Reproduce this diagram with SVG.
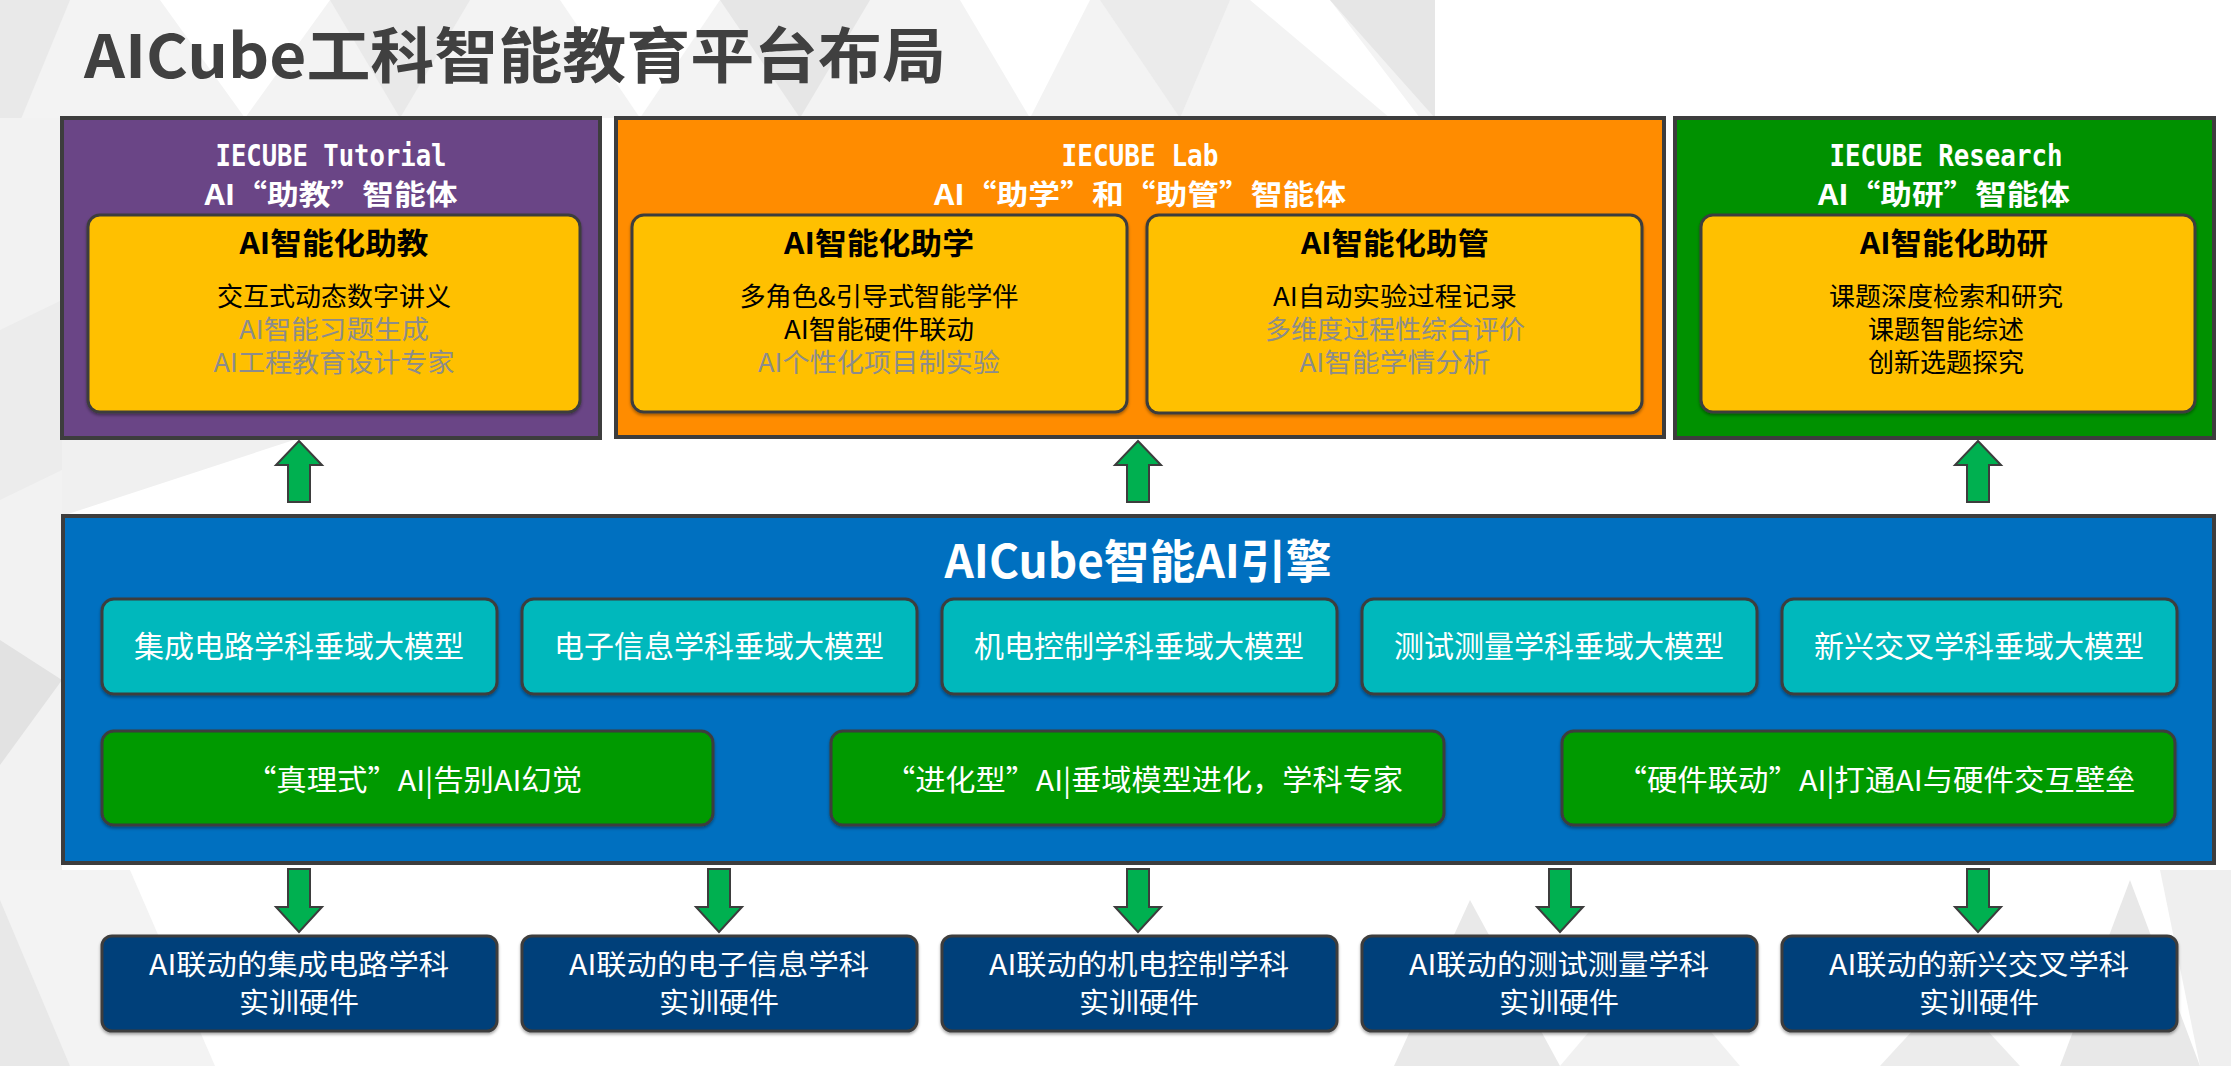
<svg xmlns="http://www.w3.org/2000/svg" width="2231" height="1066" viewBox="0 0 2231 1066">
<style>
.cjk{font-family:"Noto Sans CJK SC","Noto Sans",sans-serif}
.mono{font-family:"DejaVu Sans Mono","Liberation Mono",monospace;font-weight:bold}
.outer{stroke:#3d3d3d;stroke-width:4}
.inner{stroke:#3d3d3d;stroke-width:3}
.hdr{fill:#ffffff;font-weight:bold}
.ttl{fill:#000000;font-weight:bold;font-size:30px}
.body{font-size:26px}
.blk{fill:#000000}
.gry{fill:#8c8c8c}
.wt{fill:#ffffff}
.hw{font-size:28px}
.arrow{fill:#00B050;stroke:#3d3d3d;stroke-width:2;stroke-linejoin:miter}
</style>
<defs>
<filter id="sh" x="-5%" y="-5%" width="110%" height="120%">
<feDropShadow dx="0" dy="2" stdDeviation="1.5" flood-color="#000" flood-opacity="0.35"/>
</filter>
</defs>
<rect x="0" y="0" width="2231" height="1066" fill="#ffffff"/>
<g id="background">
<polygon points="0,0 1435,0 1435,118 0,118" fill="#f3f3f3"/>
<polygon points="0,0 70,0 0,170" fill="#e9e9e9"/>
<polygon points="160,0 330,0 245,118" fill="#ffffff"/>
<polygon points="330,0 470,0 400,118" fill="#e9e9e9"/>
<polygon points="560,0 720,0 640,118" fill="#ffffff"/>
<polygon points="720,0 870,0 800,118" fill="#e6e6e6"/>
<polygon points="960,0 1090,0 1030,118" fill="#ffffff"/>
<polygon points="1100,0 1230,0 1180,118" fill="#ebebeb"/>
<polygon points="1250,0 1330,0 1420,118 1390,118" fill="#ffffff"/>
<polygon points="1330,0 1435,0 1435,118" fill="#e6e6e6"/>
<polygon points="0,118 62,118 62,920 0,945" fill="#f2f2f2"/>
<polygon points="0,330 62,300 62,470 0,500" fill="#ececec"/>
<polygon points="0,640 62,680 0,765" fill="#e2e2e2"/>
<polygon points="0,945 62,920 62,1066 0,1066" fill="#f6f6f6"/>
<polygon points="62,438 300,438 62,516" fill="#f0f0f0"/>
<polygon points="0,870 130,870 215,1066 0,1066" fill="#f3f3f3"/>
<polygon points="0,900 70,1066 0,1066" fill="#e8e8e8"/>
<polygon points="1394,1066 1470,900 1560,1066" fill="#e9e9e9"/>
<polygon points="1560,1066 1650,960 1740,1066" fill="#f1f1f1"/>
<polygon points="1880,1066 1950,990 2020,1066" fill="#ececec"/>
<polygon points="2060,1066 2130,880 2200,1066" fill="#e8e8e8"/>
<polygon points="2160,870 2231,870 2231,1066 2200,1066" fill="#efefef"/>
</g>
<g id="title">
<text class="cjk" x="84" y="78" font-size="60" font-weight="bold" fill="#404040" textLength="862" lengthAdjust="spacingAndGlyphs">AICube工科智能教育平台布局</text>
</g>
<g id="tutorial">
<rect class="outer" x="62" y="118" width="538" height="320" fill="#6A4586"/>
<text class="mono hdr" x="331" y="166" font-size="31" text-anchor="middle" textLength="231" lengthAdjust="spacingAndGlyphs">IECUBE Tutorial</text>
<text class="cjk hdr" x="331" y="205" font-size="28" text-anchor="middle" textLength="253" lengthAdjust="spacingAndGlyphs">AI“助教”智能体</text>
<rect class="inner" x="88" y="215" width="492" height="197" rx="12" fill="#FFC000" filter="url(#sh)"/>
<text class="cjk ttl" x="334" y="254" text-anchor="middle" textLength="189" lengthAdjust="spacingAndGlyphs">AI智能化助教</text>
<text class="cjk body blk" x="334" y="306" text-anchor="middle">交互式动态数字讲义</text>
<text class="cjk body gry" x="334" y="339" text-anchor="middle" textLength="190" lengthAdjust="spacingAndGlyphs">AI智能习题生成</text>
<text class="cjk body gry" x="334" y="372" text-anchor="middle" textLength="241" lengthAdjust="spacingAndGlyphs">AI工程教育设计专家</text>
</g>
<g id="lab">
<rect class="outer" x="616" y="118" width="1048" height="319" fill="#FF8C00"/>
<text class="mono hdr" x="1140" y="166" font-size="31" text-anchor="middle" textLength="157" lengthAdjust="spacingAndGlyphs">IECUBE Lab</text>
<text class="cjk hdr" x="1140" y="205" font-size="28" text-anchor="middle" textLength="412" lengthAdjust="spacingAndGlyphs">AI“助学”和“助管”智能体</text>
</g>
<g id="assist-learn">
<rect class="inner" x="632" y="215" width="495" height="197" rx="12" fill="#FFC000" filter="url(#sh)"/>
<text class="cjk ttl" x="879" y="254" text-anchor="middle" textLength="190" lengthAdjust="spacingAndGlyphs">AI智能化助学</text>
<text class="cjk body blk" x="879" y="306" text-anchor="middle" textLength="279" lengthAdjust="spacingAndGlyphs">多角色&amp;引导式智能学伴</text>
<text class="cjk body blk" x="879" y="339" text-anchor="middle" textLength="190" lengthAdjust="spacingAndGlyphs">AI智能硬件联动</text>
<text class="cjk body gry" x="879" y="372" text-anchor="middle" textLength="242" lengthAdjust="spacingAndGlyphs">AI个性化项目制实验</text>
</g>
<g id="assist-manage">
<rect class="inner" x="1147" y="215" width="495" height="198" rx="12" fill="#FFC000" filter="url(#sh)"/>
<text class="cjk ttl" x="1395" y="254" text-anchor="middle" textLength="188" lengthAdjust="spacingAndGlyphs">AI智能化助管</text>
<text class="cjk body blk" x="1395" y="306" text-anchor="middle" textLength="244" lengthAdjust="spacingAndGlyphs">AI自动实验过程记录</text>
<text class="cjk body gry" x="1395" y="339" text-anchor="middle">多维度过程性综合评价</text>
<text class="cjk body gry" x="1395" y="372" text-anchor="middle" textLength="191" lengthAdjust="spacingAndGlyphs">AI智能学情分析</text>
</g>
<g id="research">
<rect class="outer" x="1675" y="118" width="539" height="320" fill="#009100"/>
<text class="mono hdr" x="1946" y="166" font-size="31" text-anchor="middle" textLength="233" lengthAdjust="spacingAndGlyphs">IECUBE Research</text>
<text class="cjk hdr" x="1944" y="205" font-size="28" text-anchor="middle" textLength="252" lengthAdjust="spacingAndGlyphs">AI“助研”智能体</text>
<rect class="inner" x="1701" y="215" width="494" height="197" rx="12" fill="#FFC000" filter="url(#sh)"/>
<text class="cjk ttl" x="1954" y="254" text-anchor="middle" textLength="188" lengthAdjust="spacingAndGlyphs">AI智能化助研</text>
<text class="cjk body blk" x="1946" y="306" text-anchor="middle">课题深度检索和研究</text>
<text class="cjk body blk" x="1946" y="339" text-anchor="middle">课题智能综述</text>
<text class="cjk body blk" x="1946" y="372" text-anchor="middle">创新选题探究</text>
</g>
<g id="engine">
<rect class="outer" x="63" y="516" width="2151" height="347" fill="#0070C0"/>
<text class="cjk hdr" x="1138" y="578" font-size="46" text-anchor="middle" textLength="387" lengthAdjust="spacingAndGlyphs">AICube智能AI引擎</text>
</g>
<g id="models">
<rect class="inner" x="102" y="599" width="395" height="95" rx="12" fill="#00B8BC" filter="url(#sh)"/>
<text class="cjk wt" x="299" y="657" font-size="30" text-anchor="middle">集成电路学科垂域大模型</text>
<rect class="inner" x="522" y="599" width="395" height="95" rx="12" fill="#00B8BC" filter="url(#sh)"/>
<text class="cjk wt" x="719" y="657" font-size="30" text-anchor="middle">电子信息学科垂域大模型</text>
<rect class="inner" x="942" y="599" width="395" height="95" rx="12" fill="#00B8BC" filter="url(#sh)"/>
<text class="cjk wt" x="1139" y="657" font-size="30" text-anchor="middle">机电控制学科垂域大模型</text>
<rect class="inner" x="1362" y="599" width="395" height="95" rx="12" fill="#00B8BC" filter="url(#sh)"/>
<text class="cjk wt" x="1559" y="657" font-size="30" text-anchor="middle">测试测量学科垂域大模型</text>
<rect class="inner" x="1782" y="599" width="395" height="95" rx="12" fill="#00B8BC" filter="url(#sh)"/>
<text class="cjk wt" x="1979" y="657" font-size="30" text-anchor="middle">新兴交叉学科垂域大模型</text>
</g>
<g id="features">
<rect class="inner" x="102" y="731" width="611" height="94" rx="12" fill="#029A02" filter="url(#sh)"/>
<text class="cjk wt" x="414" y="791" font-size="29" text-anchor="middle" textLength="336" lengthAdjust="spacingAndGlyphs">“真理式”AI|告别AI幻觉</text>
<rect class="inner" x="831" y="731" width="613" height="94" rx="12" fill="#029A02" filter="url(#sh)"/>
<text class="cjk wt" x="1144" y="791" font-size="29" text-anchor="middle" textLength="518" lengthAdjust="spacingAndGlyphs">“进化型”AI|垂域模型进化，学科专家</text>
<rect class="inner" x="1562" y="731" width="613" height="94" rx="12" fill="#029A02" filter="url(#sh)"/>
<text class="cjk wt" x="1876" y="791" font-size="29" text-anchor="middle" textLength="519" lengthAdjust="spacingAndGlyphs">“硬件联动”AI|打通AI与硬件交互壁垒</text>
</g>
<g id="hardware">
<rect class="inner" x="102" y="936" width="395" height="95" rx="10" fill="#003F7A" filter="url(#sh)"/>
<text class="cjk wt hw" x="299" y="975" text-anchor="middle" textLength="300" lengthAdjust="spacingAndGlyphs">AI联动的集成电路学科</text>
<text class="cjk wt hw" x="299" y="1013" text-anchor="middle" textLength="120" lengthAdjust="spacingAndGlyphs">实训硬件</text>
<rect class="inner" x="522" y="936" width="395" height="95" rx="10" fill="#003F7A" filter="url(#sh)"/>
<text class="cjk wt hw" x="719" y="975" text-anchor="middle" textLength="300" lengthAdjust="spacingAndGlyphs">AI联动的电子信息学科</text>
<text class="cjk wt hw" x="719" y="1013" text-anchor="middle" textLength="120" lengthAdjust="spacingAndGlyphs">实训硬件</text>
<rect class="inner" x="942" y="936" width="395" height="95" rx="10" fill="#003F7A" filter="url(#sh)"/>
<text class="cjk wt hw" x="1139" y="975" text-anchor="middle" textLength="300" lengthAdjust="spacingAndGlyphs">AI联动的机电控制学科</text>
<text class="cjk wt hw" x="1139" y="1013" text-anchor="middle" textLength="120" lengthAdjust="spacingAndGlyphs">实训硬件</text>
<rect class="inner" x="1362" y="936" width="395" height="95" rx="10" fill="#003F7A" filter="url(#sh)"/>
<text class="cjk wt hw" x="1559" y="975" text-anchor="middle" textLength="300" lengthAdjust="spacingAndGlyphs">AI联动的测试测量学科</text>
<text class="cjk wt hw" x="1559" y="1013" text-anchor="middle" textLength="120" lengthAdjust="spacingAndGlyphs">实训硬件</text>
<rect class="inner" x="1782" y="936" width="395" height="95" rx="10" fill="#003F7A" filter="url(#sh)"/>
<text class="cjk wt hw" x="1979" y="975" text-anchor="middle" textLength="300" lengthAdjust="spacingAndGlyphs">AI联动的新兴交叉学科</text>
<text class="cjk wt hw" x="1979" y="1013" text-anchor="middle" textLength="120" lengthAdjust="spacingAndGlyphs">实训硬件</text>
</g>
<g id="connectors">
<path class="arrow" d="M299,441 L322,465 L310,465 L310,502 L288,502 L288,465 L276,465 Z"/>
<path class="arrow" d="M1138,441 L1161,465 L1149,465 L1149,502 L1127,502 L1127,465 L1115,465 Z"/>
<path class="arrow" d="M1978,441 L2001,465 L1989,465 L1989,502 L1967,502 L1967,465 L1955,465 Z"/>
<path class="arrow" d="M288,869 L310,869 L310,907 L322,907 L299,932 L276,907 L288,907 Z"/>
<path class="arrow" d="M708,869 L730,869 L730,907 L742,907 L719,932 L696,907 L708,907 Z"/>
<path class="arrow" d="M1127,869 L1149,869 L1149,907 L1161,907 L1138,932 L1115,907 L1127,907 Z"/>
<path class="arrow" d="M1549,869 L1571,869 L1571,907 L1583,907 L1560,932 L1537,907 L1549,907 Z"/>
<path class="arrow" d="M1967,869 L1989,869 L1989,907 L2001,907 L1978,932 L1955,907 L1967,907 Z"/>
</g>
</svg>
